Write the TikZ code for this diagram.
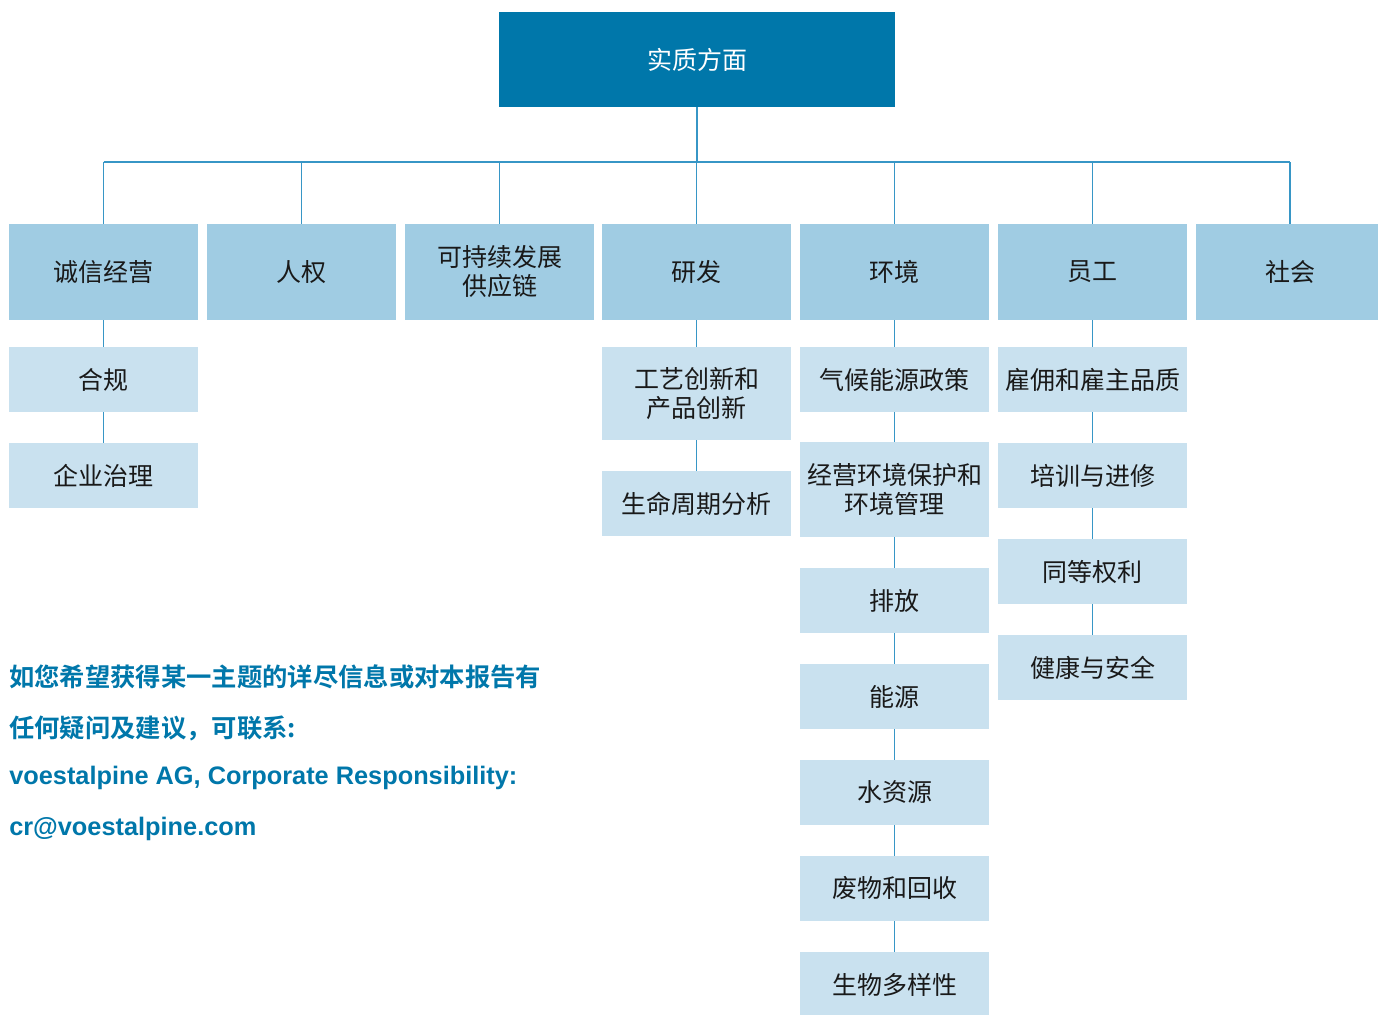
\documentclass[tikz,border=0pt]{standalone}
\usepackage{fontspec}
\setmainfont{Liberation Sans}
\newfontfamily\cjk[BoldFont={Noto Sans CJK SC Bold}]{Noto Sans CJK SC}
\definecolor{deepblue}{RGB}{0,119,170}
\definecolor{midblue}{RGB}{160,204,227}
\definecolor{paleblue}{RGB}{201,225,239}
\definecolor{linkblue}{RGB}{55,150,198}

\begin{document}
\begin{tikzpicture}[x=0.75pt, y=-0.75pt,
	topbox/.style={fill=deepblue, text=white, minimum width=297pt, minimum height=71.25pt, inner sep=0pt, font=\cjk\fontsize{18.75}{21.75}\selectfont},
	catbox/.style={fill=midblue, text=black!90, minimum width=141.75pt, minimum height=72pt, inner sep=0pt, align=center, font=\cjk\fontsize{18.75}{21.75}\selectfont},
	subbox/.style={fill=paleblue, text=black!90, minimum width=141.75pt, minimum height=48.75pt, inner sep=0pt, align=center, font=\cjk\fontsize{18.75}{21.75}\selectfont},
	tallbox/.style={subbox, minimum height=70.5pt},
	link/.style={draw=linkblue, line width=1.2pt},
	note/.style={anchor=west, inner sep=0pt, text=deepblue}]

	\useasboundingbox (0,0) rectangle (1378,1014);

	% top
	\node[topbox] (top) at (697,59.5) {实质方面};

	% first row
	\node[catbox] (c1) at (103.5,272) {诚信经营};
	\node[catbox] (c2) at (301.5,272) {人权};
	\node[catbox] (c3) at (499.5,272) {可持续发展\\供应链};
	\node[catbox] (c4) at (696.5,272) {研发};
	\node[catbox] (c5) at (894.5,272) {环境};
	\node[catbox] (c6) at (1092.5,272) {员工};
	\node[catbox] (c7) at (1290,272) {社会};

	% sub topics
	\node[subbox] (hegui) at (103.5,379.5) {合规};
	\node[subbox] (zhili) at (103.5,475.5) {企业治理};

	\node[tallbox, minimum height=69.75pt] (gongyi) at (696.5,393.5) {工艺创新和\\产品创新};
	\node[subbox] (zhouqi) at (696.5,503.5) {生命周期分析};

	\node[subbox] (qihou) at (894.5,379.5) {气候能源政策};
	\node[tallbox, minimum height=71.25pt] (jingying) at (894.5,489.5) {经营环境保护和\\环境管理};
	\node[subbox] (paifang) at (894.5,600.5) {排放};
	\node[subbox] (nengyuan) at (894.5,696.5) {能源};
	\node[subbox] (shui) at (894.5,792.5) {水资源};
	\node[subbox] (feiwu) at (894.5,888.5) {废物和回收};
	\node[subbox] (shengwu) at (894.5,984.5) {生物多样性};

	\node[subbox] (guyong) at (1092.5,379.5) {雇佣和雇主品质};
	\node[subbox] (peixun) at (1092.5,475.5) {培训与进修};
	\node[subbox] (dengquan) at (1092.5,571.5) {同等权利};
	\node[subbox] (jiankang) at (1092.5,667.5) {健康与安全};

	% connectors
	\coordinate (bus) at (0,162);
	\draw[link] (top.south) -- (top.south |- bus);
	\draw[link] (c1.north |- bus) -- (c7.north |- bus);
	\foreach \n in {c1,c2,c3,c4,c5,c6,c7}
		\draw[link] (\n.north) -- (\n.north |- bus);
	\foreach \a/\b in {c1/hegui, hegui/zhili, c4/gongyi, gongyi/zhouqi,
		c5/qihou, qihou/jingying, jingying/paifang, paifang/nengyuan, nengyuan/shui, shui/feiwu, feiwu/shengwu,
		c6/guyong, guyong/peixun, peixun/dengquan, dengquan/jiankang}
		\draw[link] (\a.south) -- (\b.north);

	% contact note
	\node[note, font=\cjk\bfseries\fontsize{19}{22}\selectfont] (ask) at (9,677) {如您希望获得某一主题的详尽信息或对本报告有};
	\node[note, font=\cjk\bfseries\fontsize{19}{22}\selectfont] (ask2) at (9,728) {任何疑问及建议，可联系:};
	\node[note, font=\bfseries\fontsize{19}{22}\selectfont] (firm) at (9,778) {voestalpine AG, Corporate Responsibility:};
	\node[note, font=\bfseries\fontsize{19}{22}\selectfont] (mail) at (9,829) {cr@voestalpine.com};
\end{tikzpicture}
\end{document}
